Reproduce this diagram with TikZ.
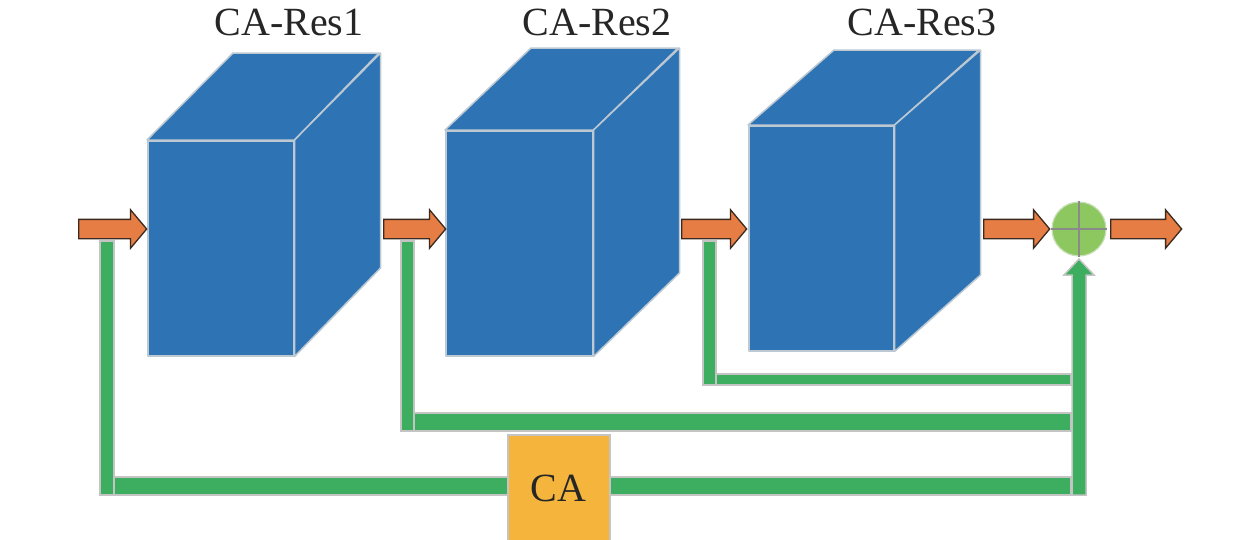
\documentclass[tikz,border=0pt]{standalone}
\usepackage{fontspec}
\setmainfont{Liberation Serif}
\usetikzlibrary{shapes.arrows,shapes.geometric}
\definecolor{cubeblue}{HTML}{2E74B5}
\definecolor{cubeedge}{HTML}{BCC8D2}
\definecolor{arrorange}{HTML}{E67D45}
\definecolor{arrline}{HTML}{3A2A20}
\definecolor{gbar}{HTML}{3DAE5F}
\definecolor{barline}{HTML}{C4C4C4}
\definecolor{sumgreen}{HTML}{8CC85F}
\definecolor{sumline}{HTML}{C9DEB8}
\definecolor{crossgray}{HTML}{8A8A8A}
\definecolor{cagold}{HTML}{F5B43C}
\definecolor{txt}{HTML}{262626}
\tikzset{
  face/.style={fill=cubeblue, draw=cubeedge, line width=1.5pt, line join=round},
  frontface/.style={face, rectangle, anchor=north west, inner sep=0pt},
  orarrow/.style={single arrow, fill=arrorange, draw=arrline, line width=1.3pt,
    inner xsep=0pt, inner ysep=9pt, single arrow head extend=9.5pt,
    single arrow tip angle=100, anchor=west},
  bar/.style={fill=gbar, draw=barline, line width=1.5pt},
  lbl/.style={text=txt, font=\fontsize{40}{48}\selectfont, inner sep=0pt},
}
\begin{document}
\begin{tikzpicture}[x=1pt,y=-1pt]
\useasboundingbox (0,0) rectangle (1260,539);
% cubes
\node[frontface, minimum width=146pt, minimum height=215pt] (c1) at (147,140) {};
\draw[face] (c1.north west) -- ++(86,-87) -- ++(146,0) -- (c1.north east) -- cycle;
\draw[face] (c1.north east) -- ++(86,-87) -- ++(0,215) -- (c1.south east) -- cycle;
\node[frontface, minimum width=147pt, minimum height=225pt] (c2) at (445,130) {};
\draw[face] (c2.north west) -- ++(86,-82) -- ++(147,0) -- (c2.north east) -- cycle;
\draw[face] (c2.north east) -- ++(86,-82) -- ++(0,225) -- (c2.south east) -- cycle;
\node[frontface, minimum width=145pt, minimum height=225pt] (c3) at (748,125) {};
\draw[face] (c3.north west) -- ++(86,-75) -- ++(145,0) -- (c3.north east) -- cycle;
\draw[face] (c3.north east) -- ++(86,-75) -- ++(0,225) -- (c3.south east) -- cycle;
% labels
\node[lbl] (l1) at (289,22) {CA-Res1};
\node[lbl] (l2) at (597,22) {CA-Res2};
\node[lbl] (l3) at (922,22) {CA-Res3};
% sum node
\node[circle, fill=sumgreen, draw=sumline, line width=1.2pt, minimum size=54pt, inner sep=0pt] (sum) at (1079,229) {};
\draw[crossgray, line width=1.5pt] (sum.north) -- (sum.south);
\draw[crossgray, line width=1.5pt] (sum.west) -- (sum.east);
% orange arrows
\node[orarrow, minimum height=68pt] (a1) at (78,229) {};
\node[orarrow, minimum height=62pt] (a2) at (383,229) {};
\node[orarrow, minimum height=65pt] (a3) at (681,229) {};
\node[orarrow, minimum height=66pt] (a4) at (983,229) {};
\node[orarrow, minimum height=71pt] (a5) at (1110,229) {};
% green skip connections
\coordinate (s1) at (100,241);
\coordinate (s2) at (401,241);
\coordinate (s3) at (703,241);
\draw[bar] (s1) rectangle (114,495);
\draw[bar] (114,477) rectangle (1071,495);
\draw[bar] (s2) rectangle (414,431);
\draw[bar] (414,413) rectangle (1071,431);
\draw[bar] (s3) rectangle (716,385);
\draw[bar] (716,374) rectangle (1071,385);
\draw[bar] (1072,495) -- (1072,275) -- (1064,275) -- (sum.south |- 0,259) -- (1094,275) -- (1086,275) -- (1086,495) -- cycle;
% CA block
\node[rectangle, fill=cagold, draw=barline, line width=1.5pt, anchor=north west,
  minimum width=102pt, minimum height=108pt, inner sep=0pt, lbl] (ca) at (507,434) {CA};
\end{tikzpicture}
\end{document}
